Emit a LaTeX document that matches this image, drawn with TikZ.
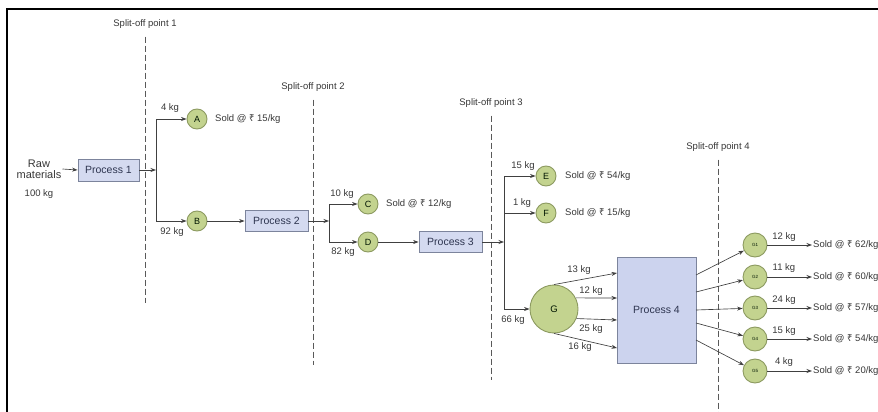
\documentclass[tikz,border=0pt]{standalone}
\usepackage{fontspec}
\setmainfont{Liberation Sans}
\newfontfamily\rupeefont{Noto Sans}
\newcommand\rs{{\rupeefont ₹}}
\usetikzlibrary{arrows.meta,calc}
\definecolor{circfill}{HTML}{C3D38F}
\definecolor{circdraw}{HTML}{8C9A60}
\definecolor{boxfill}{HTML}{D4DAF0}
\definecolor{boxfillb}{HTML}{CCD3EE}
\definecolor{boxdraw}{HTML}{7C849C}
\definecolor{linec}{HTML}{404040}
\definecolor{txt}{HTML}{383838}
\definecolor{proctxt}{HTML}{2E3550}
\tikzset{
  lbl/.style={font=\fontsize{9.5}{11}\selectfont, text=txt, inner sep=1pt},
  soldlbl/.style={lbl, anchor=west},
  procbox/.style={draw=boxdraw, fill=boxfill, line width=0.8pt, font=\fontsize{10.5}{12}\selectfont, text=proctxt, inner sep=0pt},
  prod/.style={circle, draw=circdraw, fill=circfill, line width=0.9pt, minimum size=20pt, inner sep=0pt, font=\fontsize{9}{10}\selectfont, text=black!80!green!40!black},
  subprod/.style={prod, minimum size=24pt, font=\fontsize{4.5}{5}\selectfont},
  arr/.style={draw=linec, line width=0.65pt, -{Stealth[length=5.5pt,width=4pt]}},
  split/.style={draw=black!65, line width=0.9pt, dash pattern=on 6pt off 3pt},
}
\begin{document}
\begin{tikzpicture}[x=1pt,y=-1pt]
\useasboundingbox (0,0) rectangle (878,412);
\clip (0,0) rectangle (878,412);
\fill[white] (0,0) rectangle (878,412);
% frame
\draw[line width=2.2pt] (7,412) -- (7,9) -- (880,9);

% split-off points
\node[lbl] (sp1) at (145,24) {Split-off point 1};
\node[lbl] (sp2) at (313,87) {Split-off point 2};
\node[lbl] (sp3) at (491,103) {Split-off point 3};
\node[lbl] (sp4) at (718,147) {Split-off point 4};
\coordinate (d1b) at (145,303);
\coordinate (d2b) at (313,365);
\coordinate (d3b) at (491,380);
\coordinate (d4b) at (718,415);
\draw[split] ([yshift=-7pt]sp1.south) -- (d1b);
\draw[split] ([yshift=-7pt]sp2.south) -- (d2b);
\draw[split] ([yshift=-7pt]sp3.south) -- (d3b);
\draw[split] ([yshift=-7pt]sp4.south) -- (d4b);

% raw materials
\node[lbl, font=\fontsize{11}{12}\selectfont, align=center, inner sep=1pt] (raw) at (39,169) {Raw\\[-1pt]materials};
\node[lbl] (raw100) at (39,194) {100 kg};

% process boxes
\node[procbox, minimum width=61pt, minimum height=22pt] (P1) at (108.5,170) {Process 1};
\node[procbox, minimum width=63pt, minimum height=21pt] (P2) at (276.5,221) {Process 2};
\node[procbox, minimum width=63pt, minimum height=21pt] (P3) at (450.5,242) {Process 3};
\node[procbox, minimum width=79pt, minimum height=106pt, fill=boxfillb] (P4) at (656.5,310) {Process 4};

% products
\node[prod] (A) at (197,119) {A};
\node[prod] (B) at (197,221) {B};
\node[prod] (C) at (368,204) {C};
\node[prod] (D) at (368,242) {D};
\node[prod] (E) at (546,176) {E};
\node[prod] (F) at (546,213) {F};
\node[prod, minimum size=48pt, font=\fontsize{9.5}{10}\selectfont] (G) at (554,309) {G};
\node[subprod] (G1) at (755,245) {G1};
\node[subprod] (G2) at (755,277) {G2};
\node[subprod] (G3) at (755,308) {G3};
\node[subprod] (G4) at (755,339) {G4};
\node[subprod] (G5) at (755,371) {G5};

% split coordinates
\coordinate (s1) at (156,170);
\coordinate (s2) at (329,221);
\coordinate (s3) at (504,242);

% connectors
\draw[arr] (raw.east) -- (P1.west);
\draw[arr] (P1.east) -- (s1);
\draw[arr] (s1) |- (A.west);
\draw[arr] (s1) |- (B.west);
\draw[arr] (B.east) -- (P2.west);
\draw[arr] (P2.east) -- (s2);
\draw[arr] (s2) |- (C.west);
\draw[arr] (s2) |- (D.west);
\draw[arr] (D.east) -- (P3.west);
\draw[arr] (P3.east) -- (s3);
\draw[arr] (s3) |- (E.west);
\draw[arr] (s3) |- (F.west);
\draw[arr] (s3) |- (G.west);

% G to process 4
\coordinate (i1) at (617,273);
\coordinate (i2) at (617,298);
\coordinate (i3) at (617,320);
\coordinate (i4) at (617,348);
\draw[arr] (G.north) -- (i1);
\draw[arr] (G.27) -- (i2);
\draw[arr] (G.-23) -- (i3);
\draw[arr] (G.south) -- (i4);

% process 4 to G_i
\coordinate (o1) at (696,275);
\coordinate (o2) at (696,292);
\coordinate (o3) at (696,310);
\coordinate (o4) at (696,323);
\coordinate (o5) at (696,340);
\draw[arr] (o1) -- (G1);
\draw[arr] (o2) -- (G2);
\draw[arr] (o3) -- (G3);
\draw[arr] (o4) -- (G4);
\draw[arr] (o5) -- (G5);

% sold labels
\node[soldlbl] (sA) at (214,119) {Sold @ \rs\ 15/kg};
\node[soldlbl] (sC) at (385,204) {Sold @ \rs\ 12/kg};
\node[soldlbl] (sE) at (564,176) {Sold @ \rs\ 54/kg};
\node[soldlbl] (sF) at (564,213) {Sold @ \rs\ 15/kg};
\node[soldlbl] (s1l) at (812,245) {Sold @ \rs\ 62/kg};
\node[soldlbl] (s2l) at (812,277) {Sold @ \rs\ 60/kg};
\node[soldlbl] (s3l) at (812,308) {Sold @ \rs\ 57/kg};
\node[soldlbl] (s4l) at (812,339) {Sold @ \rs\ 54/kg};
\node[soldlbl] (s5l) at (812,371) {Sold @ \rs\ 20/kg};
\draw[arr] (G1.east) -- (s1l.west);
\draw[arr] (G2.east) -- (s2l.west);
\draw[arr] (G3.east) -- (s3l.west);
\draw[arr] (G4.east) -- (s4l.west);
\draw[arr] (G5.east) -- (s5l.west);

% quantity labels
\node[lbl] (qA) at (170,108) {4 kg};
\node[lbl] (qB) at (172,232) {92 kg};
\node[lbl] (qC) at (342,194) {10 kg};
\node[lbl] (qD) at (343,252) {82 kg};
\node[lbl] (qE) at (523,166) {15 kg};
\node[lbl] (qF) at (522,203) {1 kg};
\node[lbl] (qG) at (513,320) {66 kg};
\node[lbl] (qg1) at (579,270) {13 kg};
\node[lbl] (qg2) at (591,291) {12 kg};
\node[lbl] (qg3) at (591,329) {25 kg};
\node[lbl] (qg4) at (580,347) {16 kg};
\node[lbl] (q1) at (784,237) {12 kg};
\node[lbl] (q2) at (784,268) {11 kg};
\node[lbl] (q3) at (784,300) {24 kg};
\node[lbl] (q4) at (784,331) {15 kg};
\node[lbl] (q5) at (784,362) {4 kg};
\end{tikzpicture}
\end{document}
